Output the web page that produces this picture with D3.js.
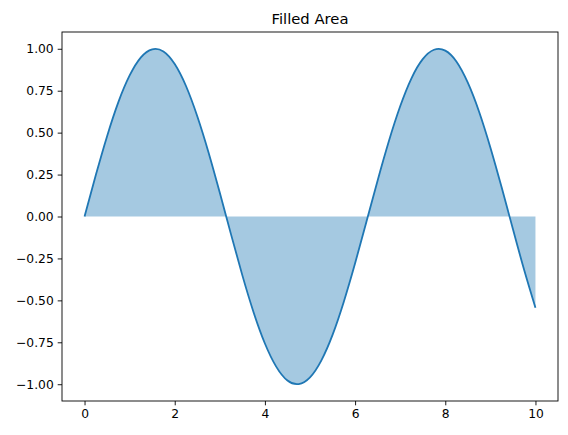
<!DOCTYPE html>
<html><head><meta charset="utf-8">
<script src="https://cdn.jsdelivr.net/npm/d3@7"></script>
<style>body{margin:0;background:#fff}svg{display:block}text{font-family:"DejaVu Sans",sans-serif}</style>
</head><body>
<svg id="c" width="568" height="435"></svg>
<script>
const xValues = [0,0.25,0.5,0.75,1,1.25,1.5,1.75,2,2.25,2.5,2.75,3,3.25,3.5,3.75,4,4.25,4.5,4.75,5,5.25,5.5,5.75,6,6.25,6.5,6.75,7,7.25,7.5,7.75,8,8.25,8.5,8.75,9,9.25,9.5,9.75,10];
const yValues = [0,0.247,0.479,0.682,0.841,0.949,0.997,0.984,0.909,0.778,0.598,0.382,0.141,-0.108,-0.351,-0.572,-0.757,-0.895,-0.978,-0.999,-0.959,-0.859,-0.706,-0.508,-0.279,-0.033,0.215,0.450,0.657,0.824,0.938,0.994,0.989,0.923,0.798,0.625,0.412,0.174,-0.075,-0.319,-0.544];
const xTicks = [0,2,4,6,8,10];
const yTicks = [-1,-0.75,-0.5,-0.25,0,0.25,0.5,0.75,1];
const title = "Filled Area";

const svg = d3.select("#c");
const L=62, R=558, T=32, B=401;
const x = d3.scaleLinear().domain([-0.5,10.5]).range([L,R]);
const y = d3.scaleLinear().domain([-1.1,1.1]).range([B,T]);
const data = xValues.map((v,i)=>({x:v,y:yValues[i]}));
const color = "#1f77b4";

// fill
svg.append("path").datum(data)
  .attr("d", d3.area().x(d=>x(d.x)).y0(y(0)).y1(d=>y(d.y)).curve(d3.curveNatural))
  .attr("fill", color).attr("fill-opacity",0.4).attr("stroke","none");
// line
svg.append("path").datum(data)
  .attr("d", d3.line().x(d=>x(d.x)).y(d=>y(d.y)).curve(d3.curveNatural))
  .attr("fill","none").attr("stroke",color).attr("stroke-width",1.8);

// axes
const xa = svg.append("g").attr("transform",`translate(0,${B})`)
  .call(d3.axisBottom(x).tickValues(xTicks).tickSize(4.3).tickPadding(4).tickFormat(d3.format("d")));
const ya = svg.append("g").attr("transform",`translate(${L},0)`)
  .call(d3.axisLeft(y).tickValues(yTicks).tickSize(4.3).tickPadding(4).tickFormat(d=>d3.format(".2f")(d).replace("-","\u2212")));
[xa,ya].forEach(g=>{g.select(".domain").remove();g.selectAll("text").attr("font-size","12.3px").attr("fill","#000").attr("font-family","DejaVu Sans");g.selectAll("line").attr("stroke","#000").attr("stroke-width",0.9);});
xa.selectAll("text").attr("dy","0.71em");

svg.append("rect").attr("x",L).attr("y",T).attr("width",R-L).attr("height",B-T)
  .attr("fill","none").attr("stroke","#000").attr("stroke-width",0.9);

svg.append("text").attr("x",(L+R)/2).attr("y",24).attr("text-anchor","middle")
  .attr("font-size","14.8px").text(title);
</script>
</body></html>
